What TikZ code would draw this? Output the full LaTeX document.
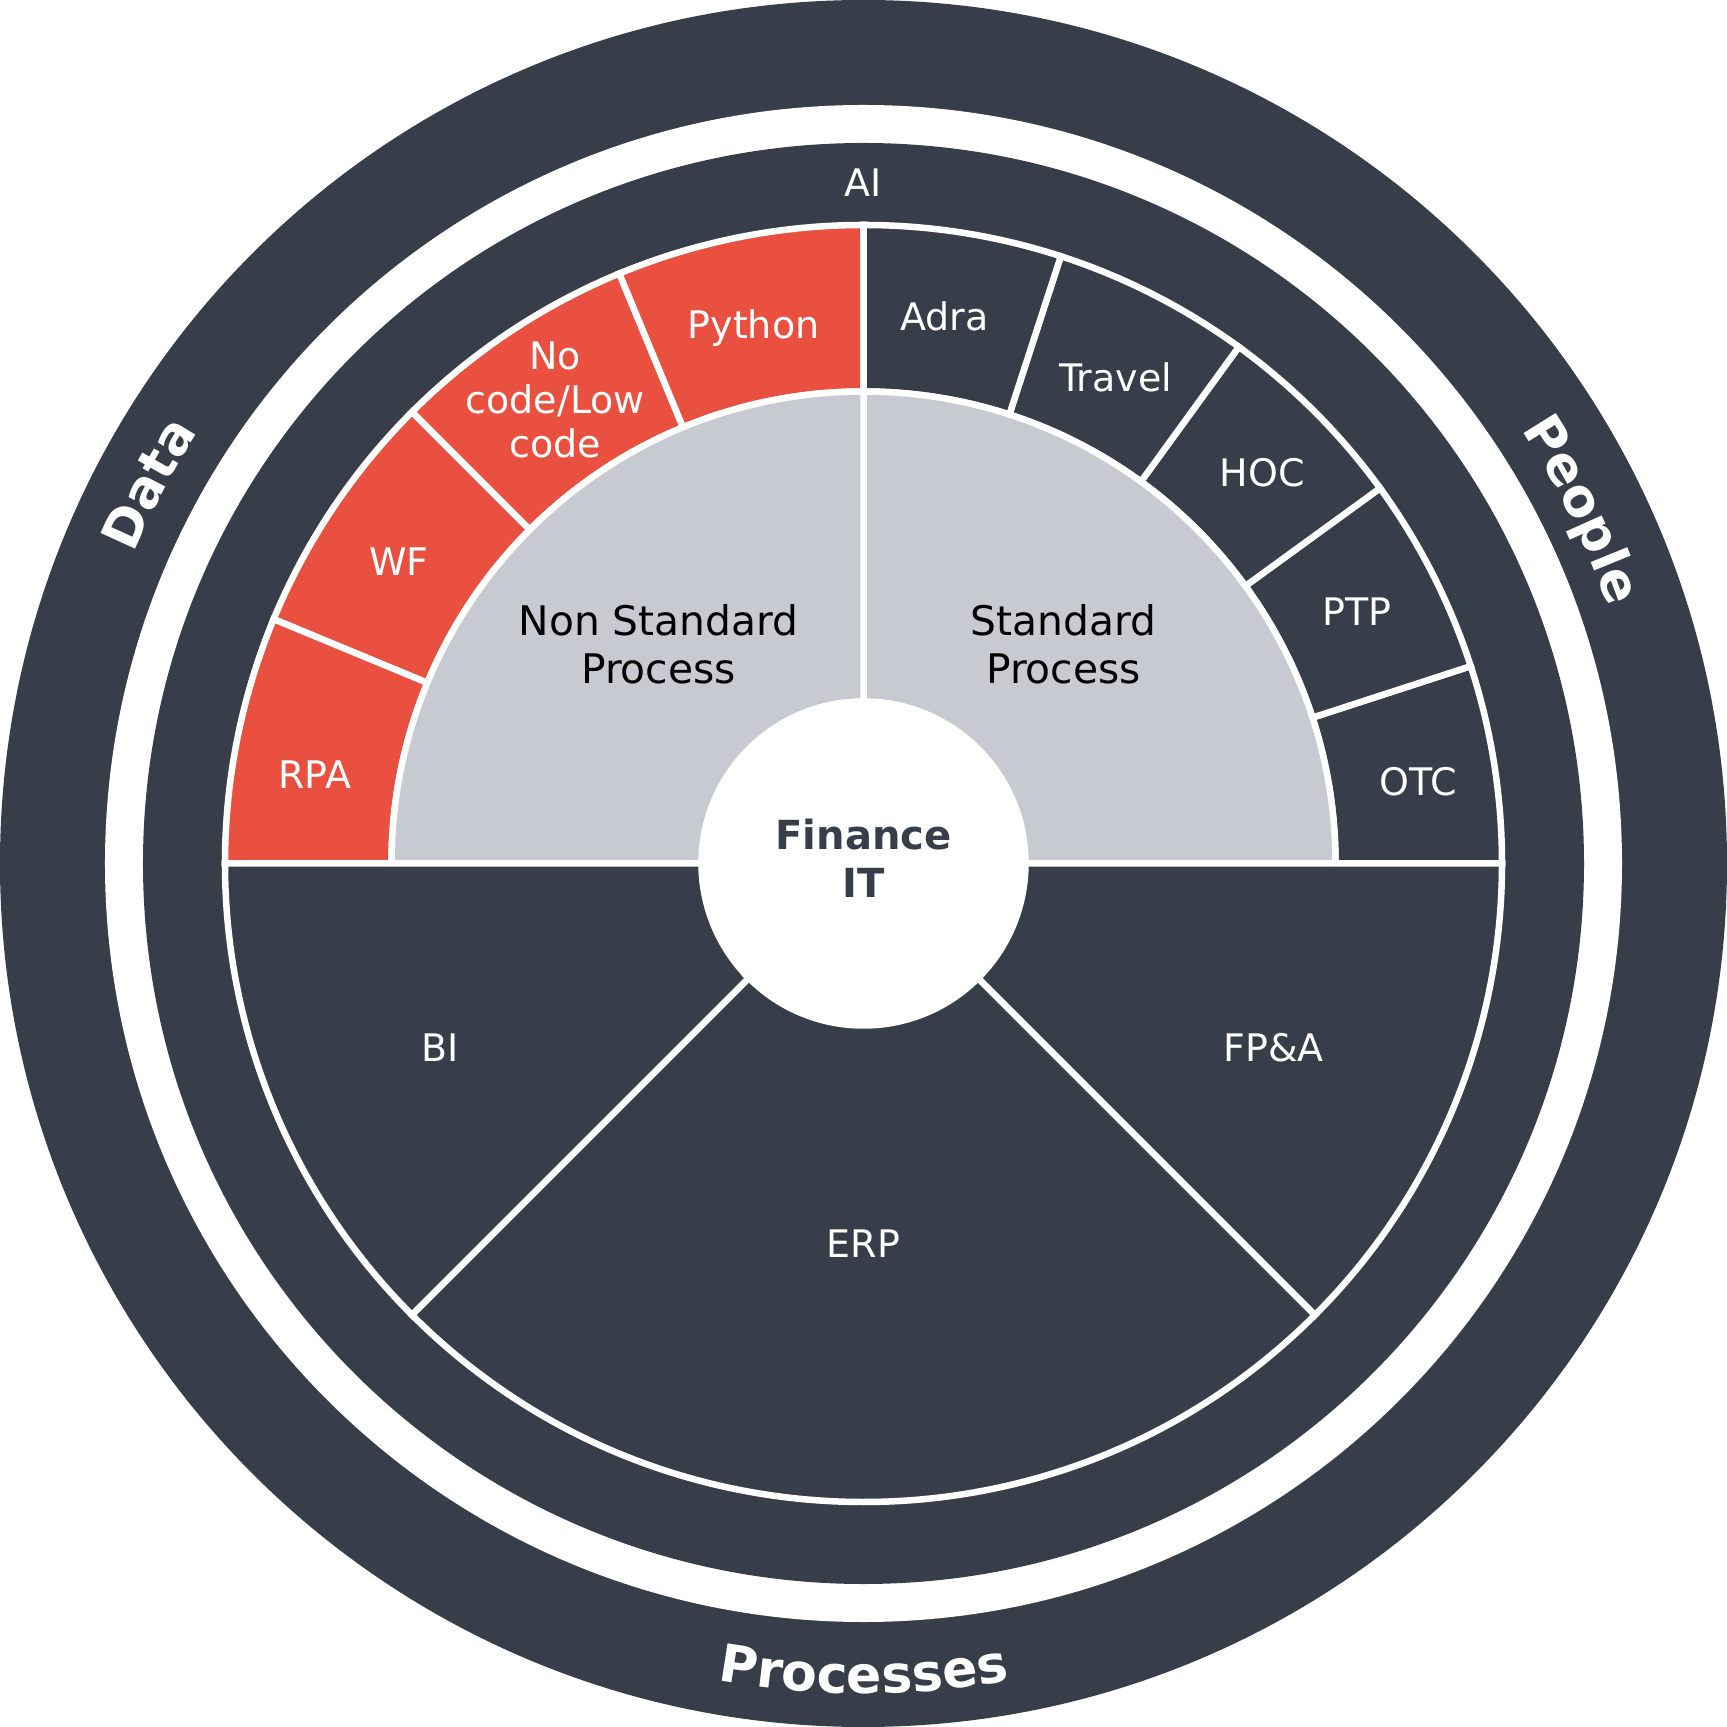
\documentclass[tikz,border=0pt]{standalone}
\usepackage{fontspec}
\setmainfont{DejaVu Sans}
\usetikzlibrary{decorations.text}
\definecolor{slate}{RGB}{55,61,73}
\definecolor{coral}{RGB}{233,80,63}
\definecolor{mist}{RGB}{199,203,209}
\tikzset{
  gap/.style={draw=white,line width=0.065cm},
  seglabel/.style={text=white,align=center,font=\fontsize{10.8}{12.5}\selectfont},
  halflabel/.style={text=black,align=center,font=\fontsize{11.6}{13.8}\selectfont},
  ringtext/.style={decorate,decoration={text along path,text align=center,text color=white,text={|\bfseries\fontsize{14.8}{17}\selectfont|#1}}}
}
\begin{document}
\begin{tikzpicture}
    \useasboundingbox(-8.635,-8.635)rectangle(8.635,8.635);
    \fill[slate](0,0)circle(8.635);
    \fill[white](0,0)circle(7.585);
    \fill[slate](0,0)circle(7.205);
    % segments of the upper half
    \foreach \a in {90,112.5,135,157.5} \filldraw[gap,fill=coral](\a:4.72)--(\a:6.385)arc[start angle=\a,delta angle=22.5,radius=6.385]--({\a+22.5}:4.72)arc[start angle=\a+22.5,delta angle=-22.5,radius=4.72]--cycle;
    \foreach \a in {0,18,36,54,72} \filldraw[gap,fill=slate](\a:4.72)--(\a:6.385)arc[start angle=\a,delta angle=18,radius=6.385]--({\a+18}:4.72)arc[start angle=\a+18,delta angle=-18,radius=4.72]--cycle;
    \foreach \a in {0,90} \filldraw[gap,fill=mist](\a:1.62)--(\a:4.72)arc[start angle=\a,delta angle=90,radius=4.72]--({\a+90}:1.62)arc[start angle=\a+90,delta angle=-90,radius=1.62]--cycle;
    % lower half
    \foreach \a/\b in {180/225,225/315,315/360} \filldraw[gap,fill=slate](\a:1.62)--(\a:6.385)arc[start angle=\a,end angle=\b,radius=6.385]--(\b:1.62)arc[start angle=\b,end angle=\a,radius=1.62]--cycle;
    \node[circle,fill=white,minimum size=3.25cm](core)at(0,0){};
    \node[text=slate,align=center,font=\bfseries\fontsize{11.4}{13.8}\selectfont](corelabel)at(0,0.05){Finance\\IT};
    \node[seglabel](ai)at(90:6.81){AI};
    \node[seglabel](python)at(101.6:5.47){Python};
    \node[seglabel](nocode)at(123.6:5.57){No\\code/Low\\code};
    \node[seglabel](wf)at(147:5.54){WF};
    \node[seglabel](rpa)at(170.8:5.56){RPA};
    \node[seglabel](adra)at(81.6:5.53){Adra};
    \node[seglabel](travel)at(62.6:5.48){Travel};
    \node[seglabel](hoc)at(44.4:5.58){HOC};
    \node[seglabel](ptp)at(27:5.54){PTP};
    \node[seglabel](otc)at(8.35:5.61){OTC};
    \node[halflabel](nonstd)at(-2.05,2.19){Non Standard\\Process};
    \node[halflabel](std)at(2.0,2.19){Standard\\Process};
    \node[seglabel](bi)at(-4.23,-1.84){BI};
    \node[seglabel](erp)at(0,-3.80){ERP};
    \node[seglabel](fpa)at(4.10,-1.84){FP\&A};
    % outer ring
    \path[ringtext=Data](172:7.93)arc[start angle=172,end angle=132,radius=7.93];
    \path[ringtext=People](46.2:7.88)arc[start angle=46.2,end angle=6.2,radius=7.88];
    \path[ringtext=Processes](250:8.30)arc[start angle=250,end angle=290,radius=8.30];
\end{tikzpicture}
\end{document}
